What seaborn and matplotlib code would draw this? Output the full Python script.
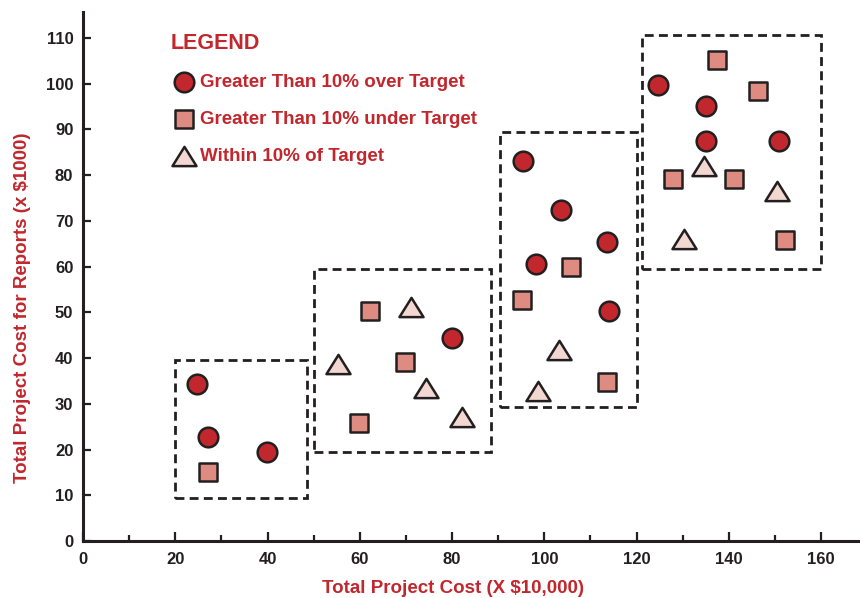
import matplotlib
matplotlib.use("Agg")
import matplotlib.pyplot as plt
from matplotlib.patches import Rectangle
from matplotlib.path import Path
from matplotlib.ticker import MultipleLocator
import seaborn as sns
import pandas as pd

# ---- data ----
over_x = [24.8, 27.1, 39.8, 79.9, 95.3, 103.7, 113.5, 98.2, 114.1, 124.6, 135.0, 135.0, 150.9]
over_y = [34.4, 22.7, 19.5, 44.4, 83.1, 72.3, 65.3, 60.6, 50.2, 99.7, 95.1, 87.5, 87.5]

under_x = [27.0, 62.2, 69.8, 59.8, 95.2, 105.9, 113.7, 137.4, 146.3, 127.9, 141.1, 152.1]
under_y = [15.1, 50.3, 39.2, 25.8, 52.6, 59.9, 34.8, 105.1, 98.4, 79.1, 79.1, 65.8]

within_x = [55.3, 71.1, 74.3, 82.1, 98.7, 103.1, 134.6, 150.5, 130.2]
within_y = [38.7, 51.2, 33.5, 27.2, 32.9, 41.8, 81.9, 76.6, 66.0]

box_x0 = [20, 50, 90.5, 121.3]
box_x1 = [48.5, 88.5, 120, 160]
box_y0 = [9.5, 19.5, 29.2, 59.5]
box_y1 = [39.5, 59.5, 89.5, 110.6]

labels = ["Greater Than 10% over Target",
          "Greater Than 10% under Target",
          "Within 10% of Target"]
x_ticks = [0, 20, 40, 60, 80, 100, 120, 140, 160]
y_ticks = [0, 10, 20, 30, 40, 50, 60, 70, 80, 90, 100, 110]

# ---- style ----
sns.set_style("ticks")
plt.rcParams["font.family"] = ["Liberation Sans", "DejaVu Sans"]
plt.rcParams["font.weight"] = "bold"

RED = "#C1272D"
SALMON = "#DE8C82"
PINK = "#F2D8D0"
DARK = "#231F20"

fig = plt.figure(figsize=(8.6, 5.98), dpi=100)
ax = fig.add_axes([83 / 860, 57 / 598, (860 - 83) / 860, (541 - 12) / 598])

# dashed group boxes
for x0, x1, y0, y1 in zip(box_x0, box_x1, box_y0, box_y1):
    ax.add_patch(Rectangle((x0, y0), x1 - x0, y1 - y0, fill=False,
                           edgecolor=DARK, linewidth=2.0,
                           linestyle=(0, (3.2, 1.9)), zorder=1))

tri = Path([(-1, -0.8), (1, -0.8), (0, 0.8), (-1, -0.8)],
           [Path.MOVETO, Path.LINETO, Path.LINETO, Path.CLOSEPOLY])

df_over = pd.DataFrame({"x": over_x, "y": over_y})
df_under = pd.DataFrame({"x": under_x, "y": under_y})
df_within = pd.DataFrame({"x": within_x, "y": within_y})

sns.scatterplot(data=df_over, x="x", y="y", marker="o", s=200, color=RED,
                edgecolor=DARK, linewidth=1.8, label=labels[0], ax=ax, zorder=3)
sns.scatterplot(data=df_under, x="x", y="y", marker="s", s=155, color=SALMON,
                edgecolor=DARK, linewidth=1.8, label=labels[1], ax=ax, zorder=3)
sns.scatterplot(data=df_within, x="x", y="y", marker=tri, s=300, color=PINK,
                edgecolor=DARK, linewidth=1.8, label=labels[2], ax=ax, zorder=3)

ax.set_xlim(0, (860 - 83) / 4.6125)
ax.set_ylim(0, (541 - 12) / 4.5727)

sns.despine(ax=ax)
for side in ["left", "bottom"]:
    ax.spines[side].set_linewidth(2.2)
    ax.spines[side].set_color(DARK)

ax.set_xticks(x_ticks)
ax.set_yticks(y_ticks)
ax.xaxis.set_minor_locator(MultipleLocator(10))
ax.tick_params(axis="x", which="major", direction="in", length=6.5, width=1.6,
               color=DARK, pad=8, labelsize=12, labelcolor=DARK)
ax.tick_params(axis="x", which="minor", direction="in", length=4, width=1.6,
               color=DARK)
ax.tick_params(axis="y", which="major", direction="in", length=6, width=1.6,
               color=DARK, pad=7, labelsize=12, labelcolor=DARK)
for lbl in ax.get_xticklabels() + ax.get_yticklabels():
    lbl.set_fontweight("bold")

ax.set_xlabel("Total Project Cost (X $10,000)", color=RED, fontsize=13.5,
              fontweight="bold")
ax.set_ylabel("Total Project Cost for Reports (x $1000)", color=RED,
              fontsize=13.5, fontweight="bold")
ax.xaxis.set_label_coords(0.476, -0.074)
ax.yaxis.set_label_coords(-0.067, 0.441)

leg = ax.legend(loc="upper left", bbox_to_anchor=(0.113, 0.96),
                frameon=False, title="LEGEND", alignment="left",
                fontsize=13.5, title_fontsize=15.5, borderpad=0,
                borderaxespad=0, handlelength=1.39, handletextpad=0.16,
                labelspacing=1.05)
leg.get_title().set_color(RED)
leg.get_title().set_fontweight("bold")
for t in leg.get_texts():
    t.set_color(RED)
    t.set_fontweight("bold")

fig.savefig("out.png", dpi=100)
